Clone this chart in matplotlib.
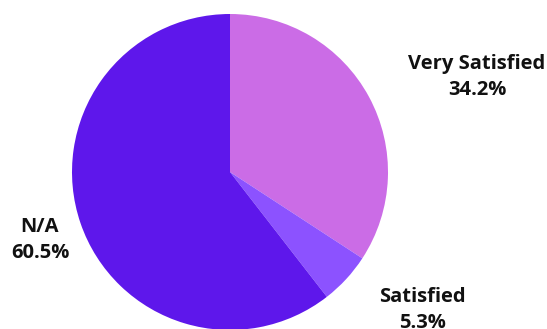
import matplotlib
matplotlib.use("Agg")
import matplotlib.pyplot as plt

categories = ["Very Satisfied", "Satisfied", "N/A"]
values = [34.2, 5.3, 60.5]
colors = ["#CB6CE6", "#8C52FF", "#5E17EB"]

W, H = 547, 329
fig = plt.figure(figsize=(W / 100, H / 100), dpi=100)
cx, cy, r = 230, 172, 158
ax = fig.add_axes([(cx - r) / W, (H - cy - r) / H, 2 * r / W, 2 * r / H])
ax.pie(values, colors=colors, startangle=90, counterclock=False,
       wedgeprops=dict(linewidth=0), radius=1.0)
ax.set_xlim(-1, 1)
ax.set_ylim(-1, 1)
ax.set_aspect("equal")
ax.axis("off")

label_pos = [(477, 77), (422, 310), (40, 240)]
for (name, v), (x, y) in zip(zip(categories, values), label_pos):
    fig.text(x / W, 1 - y / H, f"{name}\n{v}%", ha="center", va="center",
             fontsize=14.5, fontweight="bold", family="Open Sans",
             linespacing=1.35, color="#111111")

fig.savefig("out.png", dpi=100)
